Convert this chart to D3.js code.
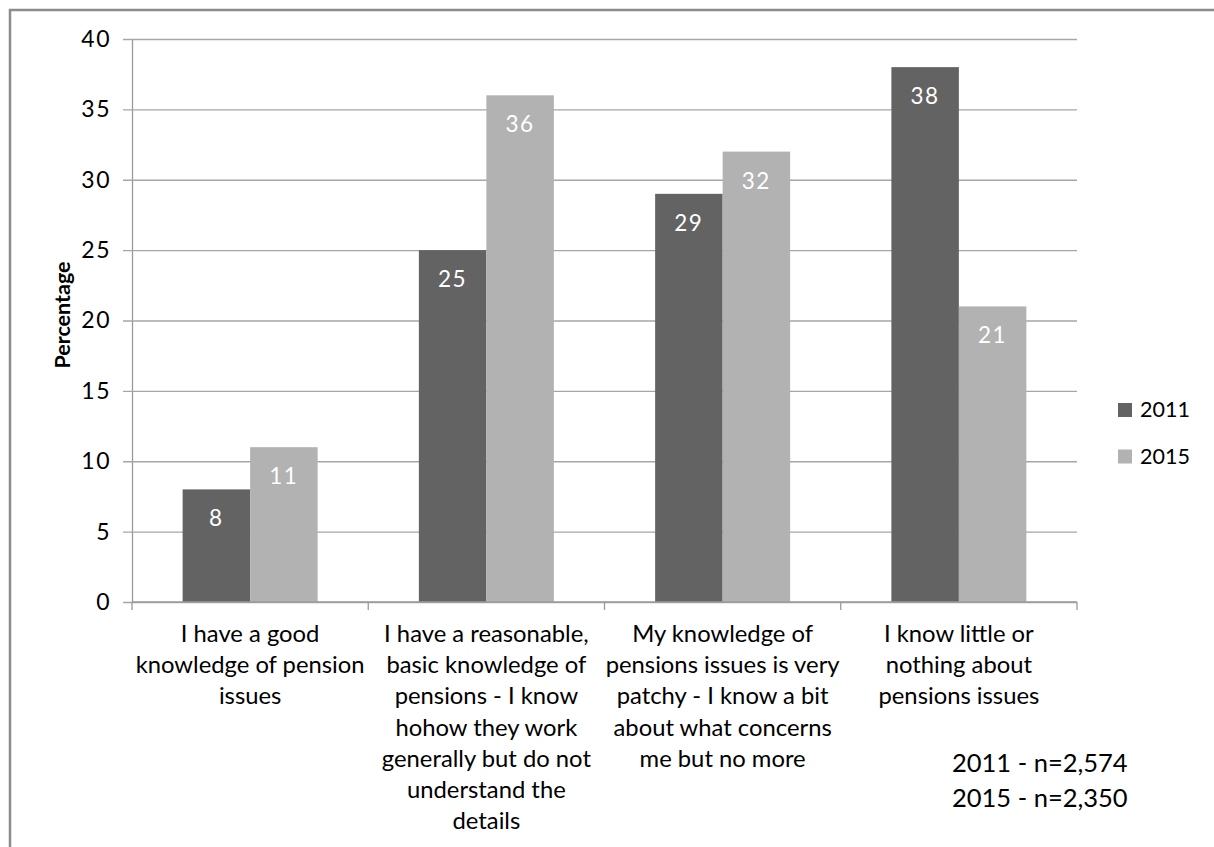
<!DOCTYPE html>
<html>
<head>
<meta charset="utf-8">
<script src="https://cdn.jsdelivr.net/npm/d3@7"></script>
<style>
  html, body { margin: 0; padding: 0; background: #fff; }
  svg { display: block; font-family: Lato, "Open Sans", sans-serif; }
</style>
</head>
<body>
<svg id="chart" width="1214" height="847"></svg>
<script>
// Self-reported knowledge of pensions, 2011 vs 2015 (percent of respondents)
const categories = [
  ["I have a good", "knowledge of pension", "issues"],
  ["I have a reasonable,", "basic knowledge of", "pensions - I know", "hohow they work", "generally but do not", "understand the", "details"],
  ["My knowledge of", "pensions issues is very", "patchy - I know a bit", "about what concerns", "me but no more"],
  ["I know little or", "nothing about", "pensions issues"]
];
const seriesNames = ["2011", "2015"];
const values2011 = [8, 25, 29, 38];
const values2015 = [11, 36, 32, 21];
const yTicks = [0, 5, 10, 15, 20, 25, 30, 35, 40];
const sampleNotes = ["2011 - n=2,574", "2015 - n=2,350"];
const yTitle = "Percentage";

const colors = { "2011": "#636363", "2015": "#b2b2b2" };
const seriesValues = { "2011": values2011, "2015": values2015 };

const svg = d3.select("#chart");

// outer frame
svg.append("path")
  .attr("d", "M10,847 V10 H1214")
  .attr("fill", "none")
  .attr("stroke", "#8c8c8c")
  .attr("stroke-width", 2.5);

const plot = { left: 132, right: 1077, top: 39, bottom: 602 };

const x = d3.scaleBand()
  .domain(d3.range(categories.length))
  .range([plot.left, plot.right])
  .padding(0);

const xInner = d3.scaleBand()
  .domain(seriesNames)
  .range([0, x.bandwidth()])
  .paddingInner(0)
  .paddingOuter(0.75);

const y = d3.scaleLinear()
  .domain([0, 40])
  .range([plot.bottom, plot.top]);

// horizontal gridlines + y axis
const yAxis = d3.axisLeft(y)
  .tickValues(yTicks)
  .tickSize(-(plot.right - plot.left))
  .tickSizeOuter(0)
  .tickPadding(21);

const gy = svg.append("g")
  .attr("transform", `translate(${plot.left},0)`)
  .call(yAxis);
gy.select(".domain").attr("stroke", "#9a9a9a").attr("stroke-width", 1.3);
gy.selectAll(".tick line")
  .attr("stroke", "#a6a6a6")
  .attr("stroke-width", 1.3)
  .attr("x1", -9);
gy.selectAll(".tick text")
  .attr("font-size", 23)
  .attr("fill", "#000")
  .attr("letter-spacing", 1.5)
  .attr("font-family", "Lato, sans-serif");

// bars
const groups = svg.append("g")
  .selectAll("g")
  .data(categories.map((c, i) => i))
  .join("g")
  .attr("transform", i => `translate(${x(i)},0)`);

groups.selectAll("rect")
  .data(i => seriesNames.map(s => ({ s, v: seriesValues[s][i] })))
  .join("rect")
  .attr("x", d => xInner(d.s))
  .attr("width", xInner.bandwidth())
  .attr("y", d => y(d.v))
  .attr("height", d => y(0) - y(d.v))
  .attr("fill", d => colors[d.s]);

// value labels inside bar tops
groups.selectAll("text.val")
  .data(i => seriesNames.map(s => ({ s, v: seriesValues[s][i] })))
  .join("text")
  .attr("class", "val")
  .attr("x", d => xInner(d.s) + xInner.bandwidth() / 2)
  .attr("y", d => y(d.v) + 37)
  .attr("text-anchor", "middle")
  .attr("font-size", 22.5)
  .attr("letter-spacing", 1.5)
  .attr("fill", "#fff")
  .text(d => d.v);

// x axis baseline with category boundary ticks
const xAxisG = svg.append("g");
xAxisG.append("line")
  .attr("x1", plot.left).attr("x2", plot.right)
  .attr("y1", y(0)).attr("y2", y(0))
  .attr("stroke", "#9a9a9a").attr("stroke-width", 1.3);
xAxisG.selectAll("line.tick")
  .data(d3.range(categories.length + 1))
  .join("line")
  .attr("class", "tick")
  .attr("x1", i => plot.left + i * x.step())
  .attr("x2", i => plot.left + i * x.step())
  .attr("y1", y(0)).attr("y2", y(0) + 8)
  .attr("stroke", "#9a9a9a").attr("stroke-width", 1.3);

// category labels
const catLabels = svg.append("g")
  .selectAll("text")
  .data(categories)
  .join("text")
  .attr("text-anchor", "middle")
  .attr("font-size", 23.8)
  .attr("fill", "#000");
catLabels.each(function (lines, i) {
  d3.select(this).selectAll("tspan")
    .data(lines)
    .join("tspan")
    .attr("x", x(i) + x.bandwidth() / 2)
    .attr("y", (d, k) => 642 + k * 31.2)
    .text(d => d);
});

// y-axis title
svg.append("text")
  .attr("transform", "translate(70,315) rotate(-90)")
  .attr("text-anchor", "middle")
  .attr("font-size", 21.5)
  .attr("font-weight", "bold")
  .attr("fill", "#000")
  .text(yTitle);

// legend
const legend = svg.append("g")
  .selectAll("g")
  .data(seriesNames)
  .join("g")
  .attr("transform", (d, i) => `translate(1118,${403 + i * 46.5})`);
legend.append("rect")
  .attr("width", 14).attr("height", 14)
  .attr("fill", d => colors[d]);
legend.append("text")
  .attr("x", 22).attr("y", 14)
  .attr("font-size", 21.5)
  .attr("fill", "#000")
  .text(d => d);

// sample sizes
svg.append("g")
  .selectAll("text")
  .data(sampleNotes)
  .join("text")
  .attr("x", 952)
  .attr("y", (d, i) => 772 + i * 35)
  .attr("font-size", 25.5)
  .attr("fill", "#000")
  .text(d => d);
</script>
</body>
</html>
